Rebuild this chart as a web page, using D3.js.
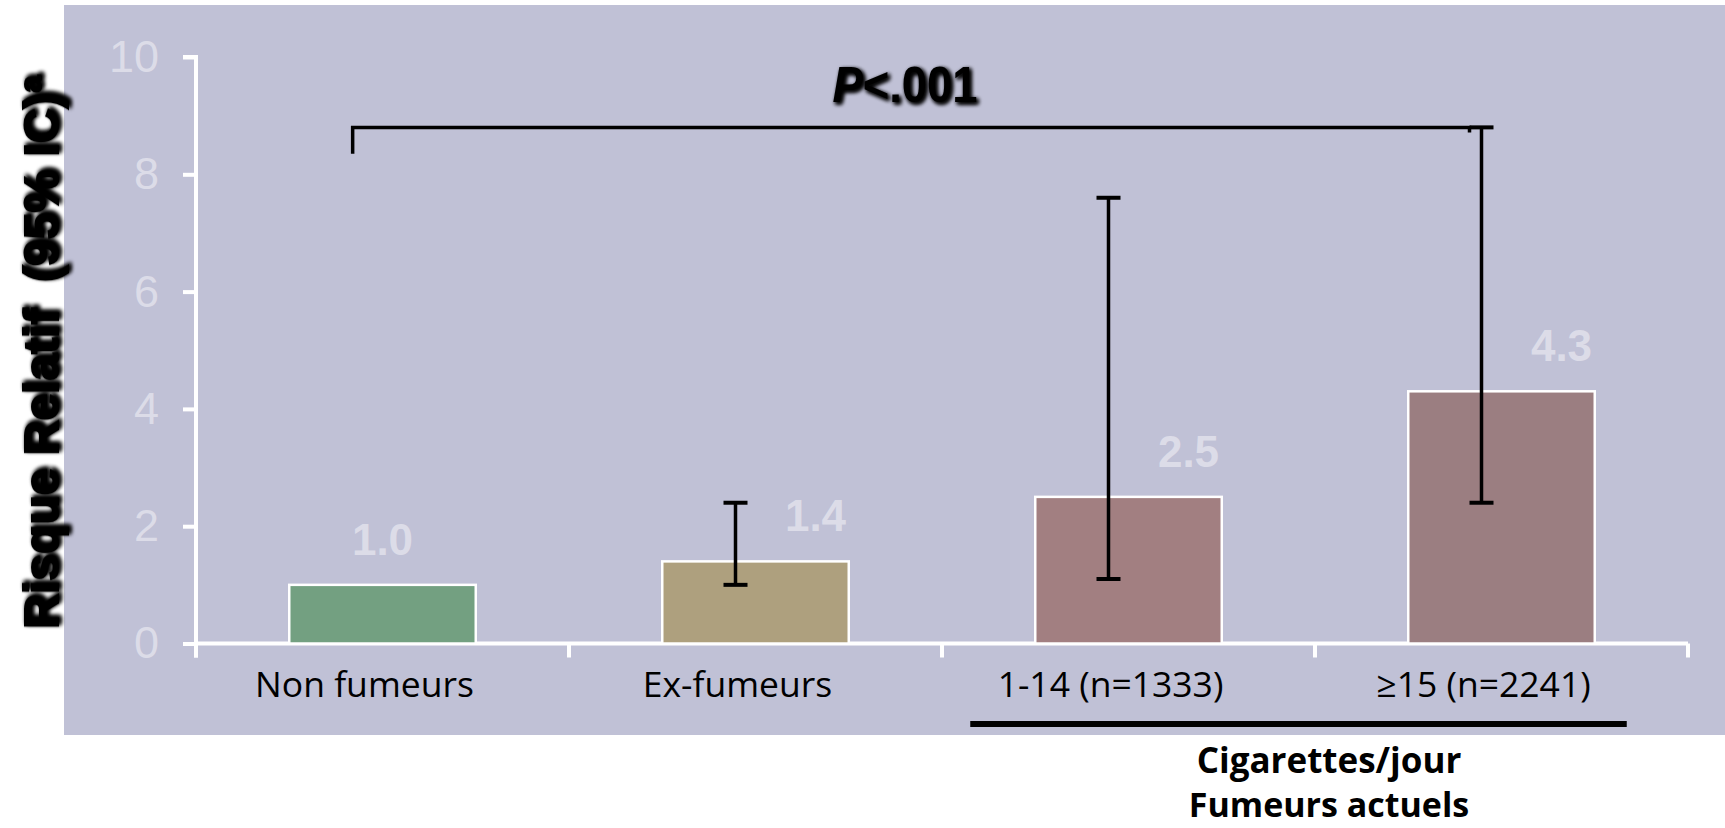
<!DOCTYPE html>
<html>
<head>
<meta charset="utf-8">
<script src="https://cdn.jsdelivr.net/npm/d3@7"></script>
<style>
  html, body { margin: 0; padding: 0; background: #ffffff; }
  svg { display: block; }
</style>
</head>
<body>
<svg id="chart" width="1725" height="828"></svg>
<script>
// ---- data ----
const categories = ["Non fumeurs", "Ex-fumeurs", "1-14 (n=1333)", "\u226515 (n=2241)"];
const values = [1.0, 1.4, 2.5, 4.3];
const valueLabels = ["1.0", "1.4", "2.5", "4.3"];
const ciLow = [null, 1.0, 1.1, 2.4];
const ciHigh = [null, 2.4, 7.6, 8.8];
const yTicks = [0, 2, 4, 6, 8, 10];
const barColors = ["#73a081", "#aea07e", "#a27f81", "#9b7e81"];
const bracketLow = 8.35;
const bracketHigh = 8.8;
const pLabel = "<.001";
const yTitle = "Risque Relatif  (95% IC)";
const groupTitle1 = "Cigarettes/jour";
const groupTitle2 = "Fumeurs actuels";

// ---- layout ----
const svg = d3.select("#chart");
const defs = svg.append("defs");
const f = defs.append("filter").attr("id", "shadow")
  .attr("x", "-20%").attr("y", "-20%").attr("width", "140%").attr("height", "140%");
f.append("feGaussianBlur").attr("in", "SourceAlpha").attr("stdDeviation", 2.2).attr("result", "b");
f.append("feOffset").attr("in", "b").attr("dx", 2).attr("dy", 2).attr("result", "o");
const fm = f.append("feMerge");
fm.append("feMergeNode").attr("in", "o");
fm.append("feMergeNode").attr("in", "o");
fm.append("feMergeNode").attr("in", "SourceGraphic");

// panel
svg.append("rect").attr("x", 64).attr("y", 5).attr("width", 1661).attr("height", 730)
  .attr("fill", "#c0c1d6");

const x = d3.scaleBand().domain(categories).range([196, 1688]).paddingInner(0.5).paddingOuter(0.25);
const y = d3.scaleLinear().domain([0, 10]).range([643.5, 57]);
const bw = x.bandwidth();
const errOffset = -20;

// y axis
const yAxis = svg.append("g").attr("transform", "translate(196,0)")
  .call(d3.axisLeft(y).tickValues(yTicks).tickSize(13).tickPadding(24).tickFormat(d3.format("d")));
yAxis.select(".domain").attr("stroke", "#ffffff").attr("stroke-width", 4)
  .attr("d", `M-13,${y(10)}H0V${y(0) + 14}`);
yAxis.selectAll(".tick line").attr("stroke", "#ffffff").attr("stroke-width", 4);
yAxis.selectAll(".tick text").attr("fill", "#dcdce8")
  .style("font-family", "'Liberation Sans', Arial, sans-serif").style("font-size", "45px");

// x axis line + boundary ticks
svg.append("line").attr("x1", x.range()[0]).attr("x2", x.range()[1])
  .attr("y1", y(0)).attr("y2", y(0)).attr("stroke", "#ffffff").attr("stroke-width", 4);
const boundaries = categories.map(c => x(c) - bw / 2).concat([x(categories[categories.length - 1]) + bw + bw / 2]);
svg.selectAll(".xb").data(boundaries).enter().append("line")
  .attr("x1", d => d).attr("x2", d => d).attr("y1", y(0)).attr("y2", y(0) + 14)
  .attr("stroke", "#ffffff").attr("stroke-width", 4);

// x labels
svg.selectAll(".xl").data(categories).enter().append("text")
  .attr("x", d => x(d) + bw / 2 - 18).attr("y", 697)
  .attr("text-anchor", "middle")
  .style("font-family", "'Open Sans', sans-serif").style("font-size", "35.5px").attr("fill", "#000")
  .text(d => d);

// bars
svg.selectAll(".bar").data(categories).enter().append("rect")
  .attr("x", d => x(d)).attr("width", bw)
  .attr("y", (d, i) => y(values[i])).attr("height", (d, i) => y(0) - y(values[i]))
  .attr("fill", (d, i) => barColors[i]).attr("stroke", "#ffffff").attr("stroke-width", 2.5);

// value labels
svg.selectAll(".vl").data(categories).enter().append("text")
  .attr("x", (d, i) => x(d) + bw / 2 + (ciHigh[i] === null ? 0 : 60))
  .attr("y", (d, i) => y(values[i]) - 30)
  .attr("text-anchor", "middle")
  .style("font-family", "'Liberation Sans', Arial, sans-serif").style("font-size", "44px").style("font-weight", "bold")
  .attr("fill", "#dcdce8")
  .text((d, i) => valueLabels[i]);

// error bars
const eb = svg.selectAll(".eb").data(categories.map((c, i) => ({ c, i })).filter(o => ciHigh[o.i] !== null))
  .enter().append("g");
eb.append("line")
  .attr("x1", o => x(o.c) + bw / 2 + errOffset).attr("x2", o => x(o.c) + bw / 2 + errOffset)
  .attr("y1", o => y(ciLow[o.i])).attr("y2", o => y(ciHigh[o.i]))
  .attr("stroke", "#000").attr("stroke-width", 3.5);
["low", "high"].forEach(k => {
  eb.append("line")
    .attr("x1", o => x(o.c) + bw / 2 + errOffset - 12).attr("x2", o => x(o.c) + bw / 2 + errOffset + 12)
    .attr("y1", o => y(k === "low" ? ciLow[o.i] : ciHigh[o.i]))
    .attr("y2", o => y(k === "low" ? ciLow[o.i] : ciHigh[o.i]))
    .attr("stroke", "#000").attr("stroke-width", 4);
});

// bracket
const bx1 = x(categories[0]) + bw * 0.34;
const bx2 = x(categories[3]) + bw / 2 + errOffset - 12;
svg.append("path")
  .attr("d", `M${bx1},${y(bracketLow)}V${y(bracketHigh)}H${bx2}v5`)
  .attr("fill", "none").attr("stroke", "#000").attr("stroke-width", 3.5);

// P label
const pt = svg.append("text").attr("x", 905).attr("y", 102).attr("text-anchor", "middle")
  .attr("filter", "url(#shadow)")
  .style("font-family", "'Liberation Sans', Arial, sans-serif").style("font-size", "50px").style("font-weight", "bold")
  .attr("textLength", 145).attr("lengthAdjust", "spacingAndGlyphs").attr("fill", "#000");
pt.append("tspan").style("font-style", "italic").text("P");
pt.append("tspan").text(pLabel);

// y title
const yt = svg.append("text")
  .attr("transform", `translate(58,${(y(0) + y(10)) / 2 + 2}) rotate(-90)`)
  .attr("text-anchor", "middle").attr("filter", "url(#shadow)")
  .style("font-family", "'Liberation Sans', Arial, sans-serif").style("font-size", "48px").style("font-weight", "bold")
  .style("white-space", "pre")
  .attr("fill", "#000").attr("stroke", "#000").attr("stroke-width", 2.2);
yt.append("tspan").text(yTitle);
yt.append("tspan").attr("dy", -17).style("font-size", "30px").text("a");

// group underline and titles
const ux1 = x(categories[2]) - 65;
const ux2 = x(categories[3]) + bw + 32;
svg.append("line").attr("x1", ux1).attr("x2", ux2).attr("y1", 724).attr("y2", 724)
  .attr("stroke", "#000").attr("stroke-width", 6);
svg.append("text").attr("x", 1329).attr("y", 773).attr("text-anchor", "middle")
  .style("font-family", "'Open Sans', sans-serif").style("font-size", "35px").style("font-weight", "bold")
  .attr("fill", "#000").text(groupTitle1);
svg.append("text").attr("x", 1329).attr("y", 817).attr("text-anchor", "middle")
  .style("font-family", "'Open Sans', sans-serif").style("font-size", "34px").style("font-weight", "bold")
  .attr("fill", "#000").text(groupTitle2);
</script>
</body>
</html>
